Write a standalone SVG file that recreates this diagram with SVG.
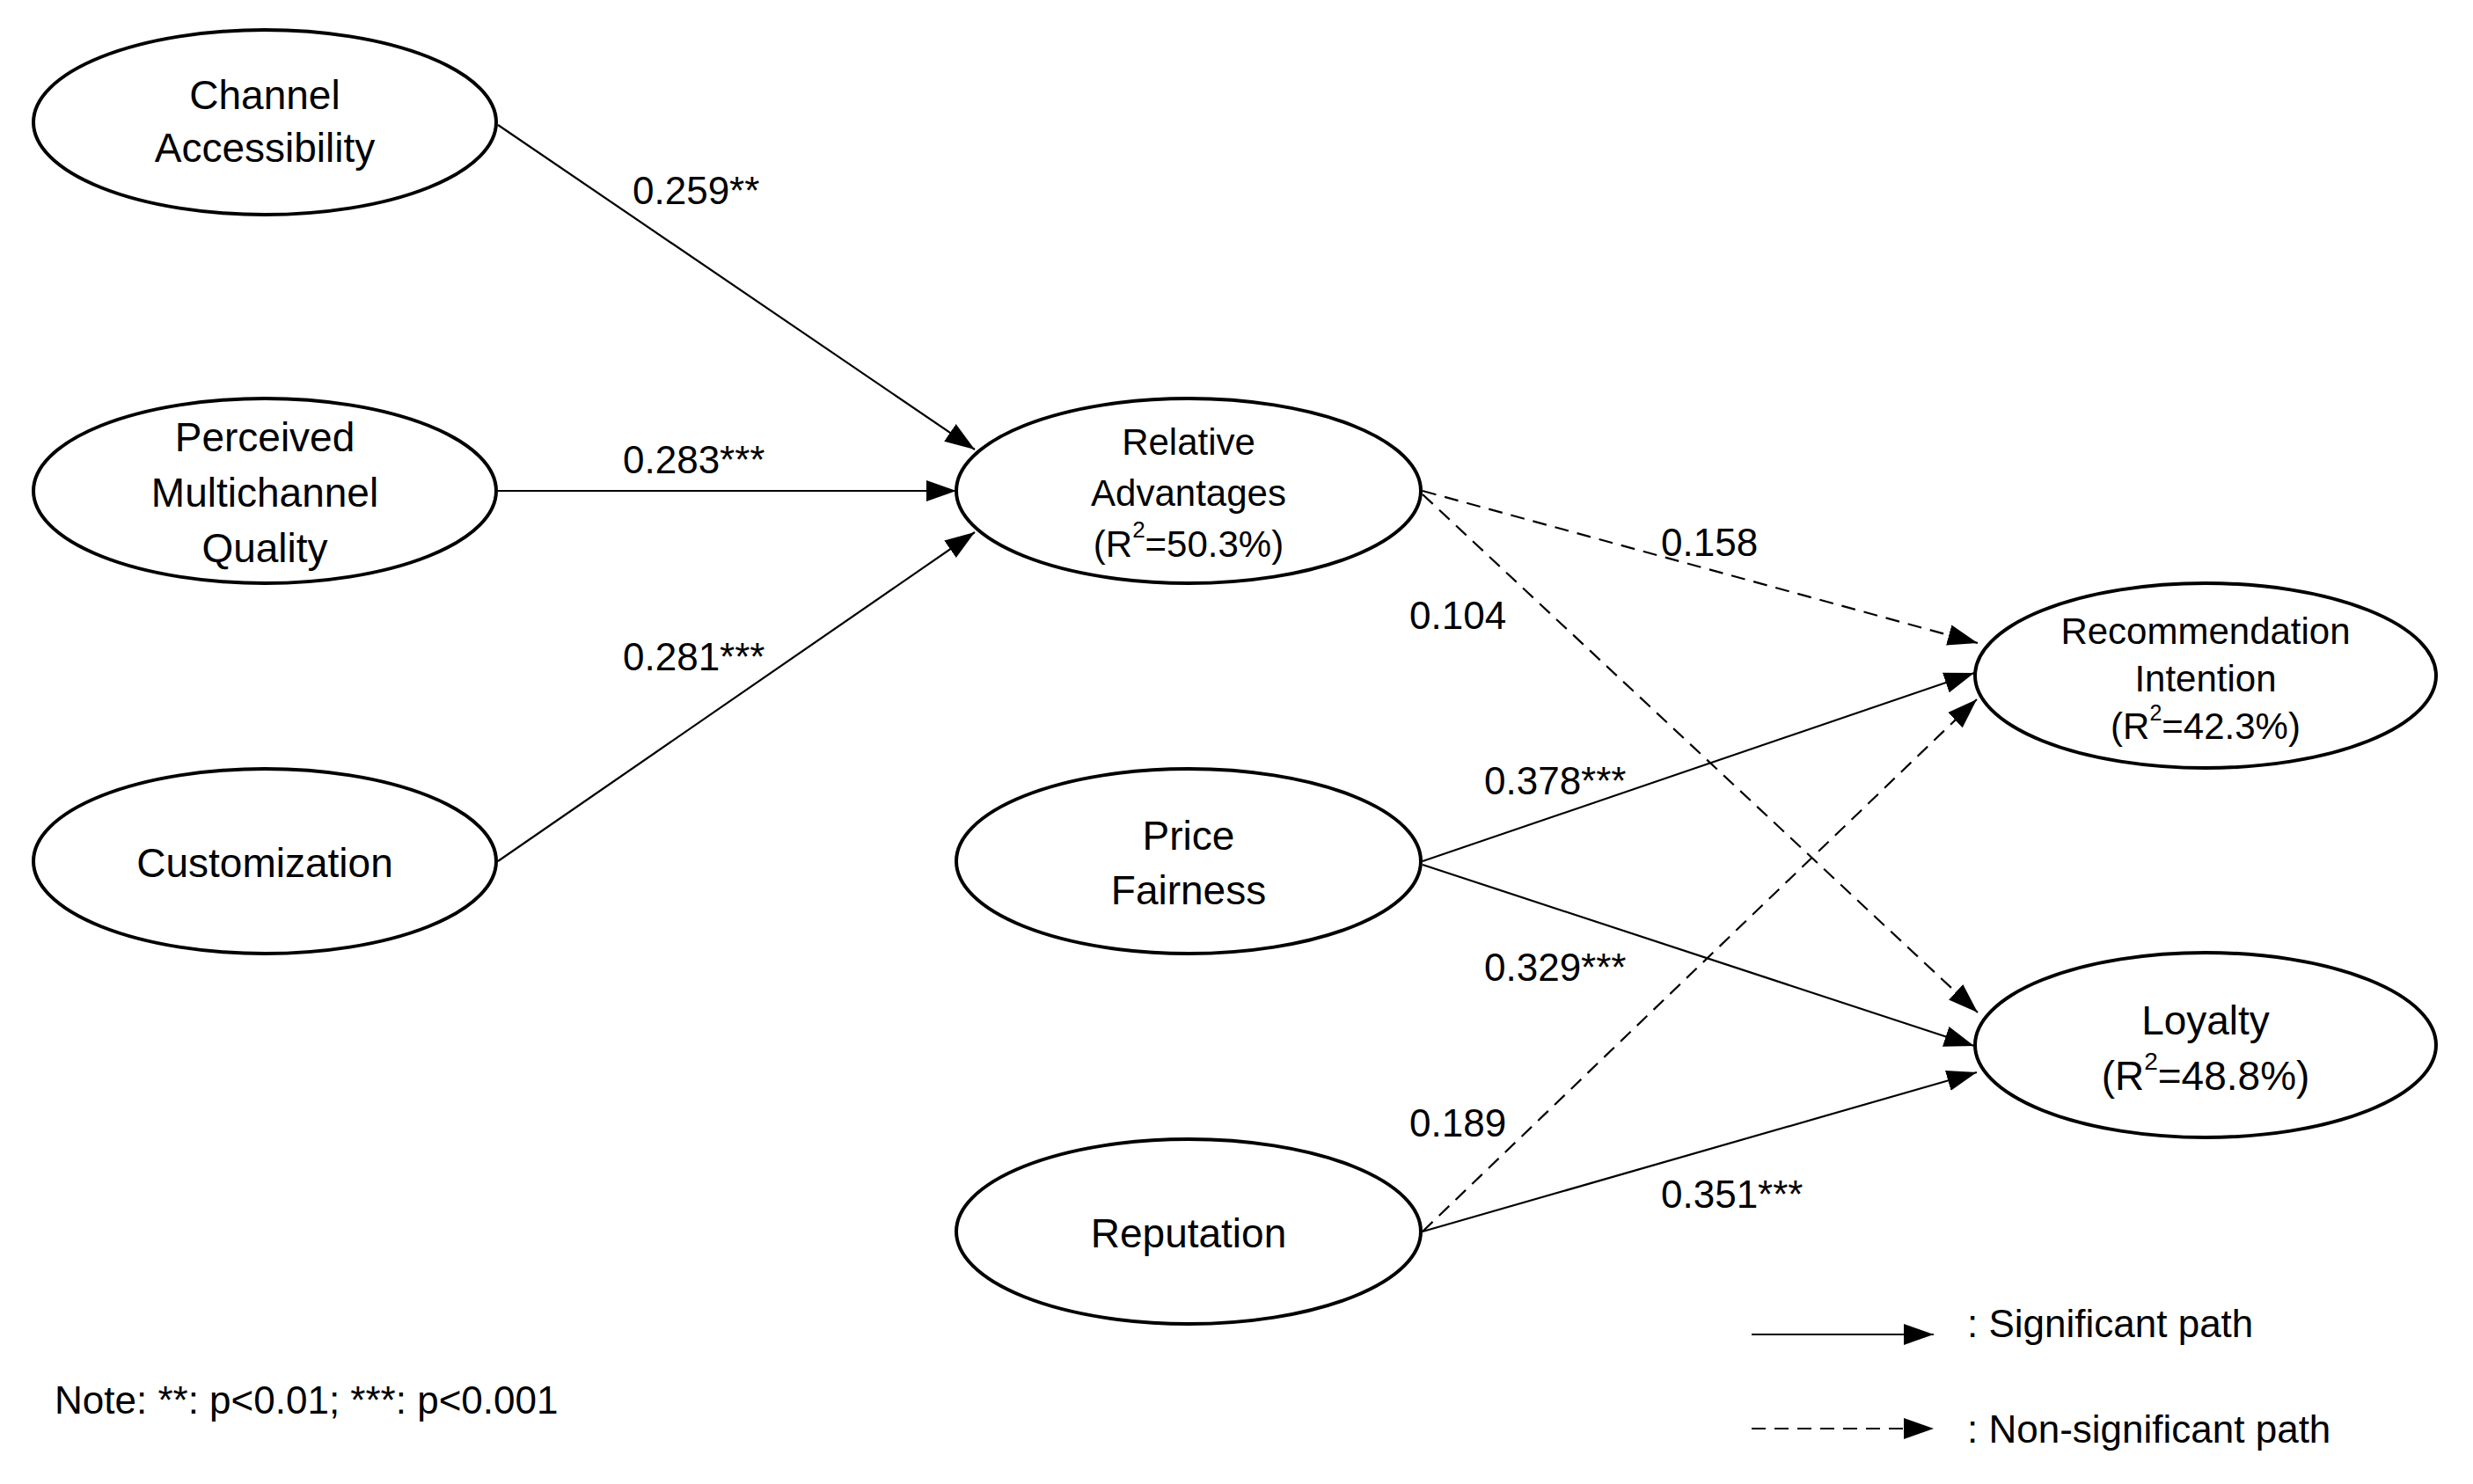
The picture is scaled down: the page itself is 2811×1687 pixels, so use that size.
<svg xmlns="http://www.w3.org/2000/svg" width="2811" height="1687" viewBox="0 0 2811 1687">
<defs>
<marker id="ah" viewBox="0 0 10 10" refX="10" refY="5" markerWidth="34" markerHeight="34" markerUnits="userSpaceOnUse" orient="auto"><path d="M0,1.5 L10,5 L0,8.5 z" fill="#000"/></marker>
<style>
ellipse{fill:#fff;stroke:#000;stroke-width:4}
text{font-family:"Liberation Sans",Arial,sans-serif;fill:#000;text-anchor:middle;dominant-baseline:central}
.n{font-size:46px}
.s{font-size:42px}
.l{font-size:44px;text-anchor:start}
.c line{stroke:#000;stroke-width:2.2;marker-end:url(#ah)}
.c line.d{stroke-dasharray:16 10}
</style>
</defs>
<rect width="2811" height="1687" fill="#fff"/>
<g class="c" id="connectors">
<line x1="566" y1="142" x2="1108" y2="511"/>
<line x1="566" y1="558" x2="1087" y2="558"/>
<line x1="566" y1="979" x2="1108" y2="605"/>
<line class="d" x1="1617" y1="558" x2="2248" y2="731"/>
<line class="d" x1="1617" y1="562" x2="2248" y2="1151"/>
<line x1="1617" y1="979" x2="2244" y2="765"/>
<line x1="1617" y1="983" x2="2244" y2="1189"/>
<line class="d" x1="1617" y1="1400" x2="2247" y2="795"/>
<line x1="1617" y1="1400" x2="2247" y2="1219"/>
<line x1="1991" y1="1517" x2="2198" y2="1517"/>
<line class="d" x1="1991" y1="1624" x2="2198" y2="1624"/>
</g>
<g id="ca"><ellipse cx="301" cy="139" rx="263" ry="105"/><text class="n" x="301" y="108">Channel</text><text class="n" x="301" y="168">Accessibility</text></g>
<g id="pmq"><ellipse cx="301" cy="558" rx="263" ry="105"/><text class="n" x="301" y="497">Perceived</text><text class="n" x="301" y="560">Multichannel</text><text class="n" x="301" y="623">Quality</text></g>
<g id="cu"><ellipse cx="301" cy="979" rx="263" ry="105"/><text class="n" x="301" y="981">Customization</text></g>
<g id="ra"><ellipse cx="1351" cy="558" rx="264" ry="105"/><text class="s" x="1351" y="502">Relative</text><text class="s" x="1351" y="560">Advantages</text><text class="s" x="1351" y="618">(R<tspan font-size="26" dy="-16">2</tspan><tspan dy="16">=50.3%)</tspan></text></g>
<g id="pf"><ellipse cx="1351" cy="979" rx="264" ry="105"/><text class="n" x="1351" y="950">Price</text><text class="n" x="1351" y="1012">Fairness</text></g>
<g id="rep"><ellipse cx="1351" cy="1400" rx="264" ry="105"/><text class="n" x="1351" y="1402">Reputation</text></g>
<g id="ri"><ellipse cx="2507" cy="768" rx="262" ry="105"/><text class="s" x="2507" y="717" font-size="40">Recommendation</text><text class="s" x="2507" y="771" font-size="40">Intention</text><text class="s" x="2507" y="825" font-size="40">(R<tspan font-size="25" dy="-15">2</tspan><tspan dy="15">=42.3%)</tspan></text></g>
<g id="lo"><ellipse cx="2507" cy="1188" rx="262" ry="105"/><text class="n" x="2507" y="1160">Loyalty</text><text class="n" x="2507" y="1223">(R<tspan font-size="28" dy="-17">2</tspan><tspan dy="17">=48.8%)</tspan></text></g>
<g id="labels">
<text class="l" x="719" y="216">0.259**</text>
<text class="l" x="708" y="522">0.283***</text>
<text class="l" x="708" y="746">0.281***</text>
<text class="l" x="1888" y="616">0.158</text>
<text class="l" x="1602" y="699">0.104</text>
<text class="l" x="1687" y="887">0.378***</text>
<text class="l" x="1687" y="1099">0.329***</text>
<text class="l" x="1602" y="1276">0.189</text>
<text class="l" x="1888" y="1357">0.351***</text>
<text class="l" x="2236" y="1504" font-size="40">: Significant path</text>
<text class="l" x="2236" y="1624" font-size="40">: Non-significant path</text>
<text class="l" x="62" y="1591" font-size="38">Note: **: p&lt;0.01; ***: p&lt;0.001</text>
</g>
</svg>
